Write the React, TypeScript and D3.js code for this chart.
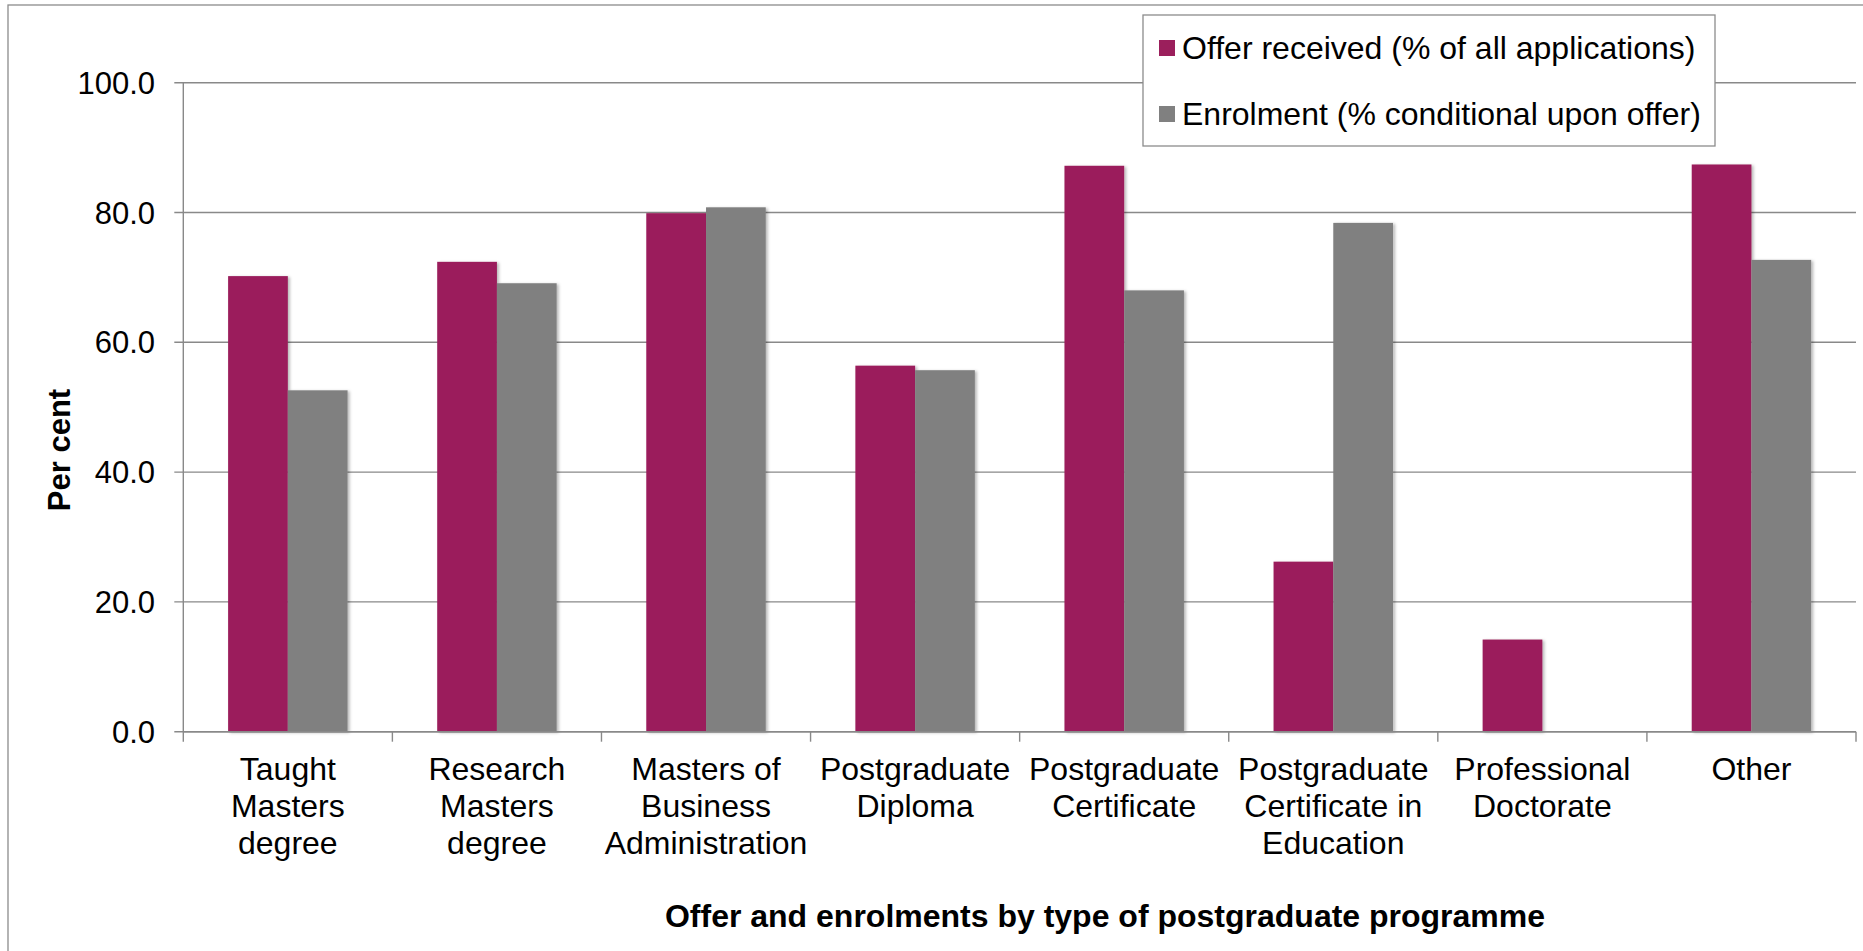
import React from "react";
import * as d3 from "d3";

const categories: string[][] = [
  ["Taught", "Masters", "degree"],
  ["Research", "Masters", "degree"],
  ["Masters of", "Business", "Administration"],
  ["Postgraduate", "Diploma"],
  ["Postgraduate", "Certificate"],
  ["Postgraduate", "Certificate in", "Education"],
  ["Professional", "Doctorate"],
  ["Other"],
];
const offerReceived: (number | null)[] = [70.2, 72.4, 79.9, 56.4, 87.2, 26.2, 14.2, 87.4];
const enrolment: (number | null)[] = [52.6, 69.1, 80.8, 55.7, 68.0, 78.4, null, 72.7];
const yTicks: number[] = [0, 20, 40, 60, 80, 100];
const seriesNames: string[] = [
  "Offer received (% of all applications)",
  "Enrolment (% conditional upon offer)",
];
const seriesColors: string[] = ["#9B1F5C", "#808080"];

const W = 1863;
const H = 951;
const FONT = "'Liberation Sans', Arial, Helvetica, sans-serif";

export default function App() {
  const left = 183.3;
  const right = 1856;
  const top = 82.7;
  const bottom = 731.7;

  const x = d3
    .scaleBand<number>()
    .domain(categories.map((_, i) => i))
    .range([left, right])
    .paddingInner(0)
    .paddingOuter(0);
  const y = d3.scaleLinear().domain([0, 100]).range([bottom, top]);
  const bw = x.bandwidth();
  const barW = bw / 3.5;
  const series = [offerReceived, enrolment];

  const boundaries = d3.range(categories.length + 1).map((i) => left + i * bw);

  return (
    <svg
      width={W}
      height={H}
      style={{ position: "absolute", left: 0, top: 0, background: "#fff" }}
      fontFamily={FONT}
    >
      <defs>
        <filter id="sh" x="-20%" y="-5%" width="150%" height="110%">
          <feDropShadow dx="2" dy="1" stdDeviation="1.5" floodColor="#000" floodOpacity="0.28" />
        </filter>
      </defs>
      <rect x={8} y={5} width={W + 20} height={H + 20} fill="#fff" stroke="#8c8c8c" strokeWidth={1.3} />

      {/* gridlines */}
      {yTicks.map((t) => (
        <line key={"g" + t} x1={left - 9} x2={right} y1={y(t)} y2={y(t)} stroke="#898989" strokeWidth={1.4} />
      ))}
      {/* y axis */}
      <line x1={left} x2={left} y1={top} y2={bottom} stroke="#898989" strokeWidth={1.4} />
      {yTicks.map((t) => (
        <text key={"yl" + t} x={155} y={y(t) + 11} fontSize={31} textAnchor="end" fill="#000">
          {t.toFixed(1)}
        </text>
      ))}

      {/* bars */}
      {series.map((vals, si) =>
        vals.map((v, ci) =>
          v == null ? null : (
            <rect
              key={`b${si}-${ci}`}
              x={(x(ci) as number) + (bw - 2 * barW) / 2 + si * barW}
              y={y(v)}
              width={barW}
              height={y(0) - y(v)}
              fill={seriesColors[si]}
              filter="url(#sh)"
            />
          )
        )
      )}

      {/* x axis */}
      <line x1={left} x2={right} y1={bottom} y2={bottom} stroke="#898989" strokeWidth={1.4} />
      {boundaries.map((bx, i) => (
        <line key={"xt" + i} x1={bx} x2={bx} y1={bottom} y2={bottom + 10} stroke="#898989" strokeWidth={1.4} />
      ))}
      {categories.map((lines, ci) => (
        <text key={"xl" + ci} x={(x(ci) as number) + bw / 2} y={780} fontSize={32} textAnchor="middle" fill="#000">
          {lines.map((ln, li) => (
            <tspan key={li} x={(x(ci) as number) + bw / 2} y={780 + li * 37}>
              {ln}
            </tspan>
          ))}
        </text>
      ))}

      {/* axis titles */}
      <text x={1105} y={927} fontSize={32} fontWeight="bold" textAnchor="middle" fill="#000">
        Offer and enrolments by type of postgraduate programme
      </text>
      <text
        transform={`translate(70,450) rotate(-90)`}
        fontSize={31}
        fontWeight="bold"
        textAnchor="middle"
        fill="#000"
      >
        Per cent
      </text>

      {/* legend */}
      <rect x={1143} y={15} width={572} height={131} fill="#fff" stroke="#8c8c8c" strokeWidth={1.3} />
      {seriesNames.map((name, i) => (
        <g key={"lg" + i}>
          <rect x={1159} y={40 + i * 66} width={16} height={16} fill={seriesColors[i]} />
          <text x={1182} y={48 + i * 66 + 11} fontSize={32} fill="#000">
            {name}
          </text>
        </g>
      ))}
    </svg>
  );
}
